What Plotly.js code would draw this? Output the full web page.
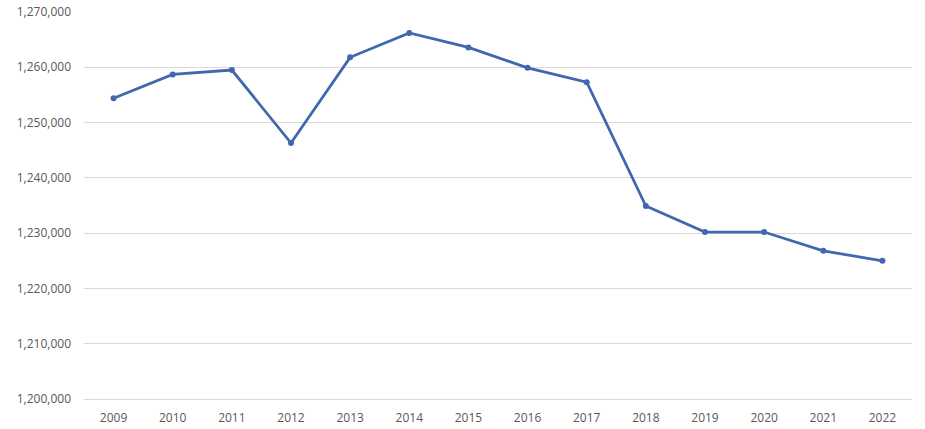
<!DOCTYPE html>
<html>
<head>
<meta charset="utf-8">
<script src="https://cdn.plot.ly/plotly-3.0.1.min.js"></script>
<style>
  html, body { margin: 0; padding: 0; background: #ffffff; }
  #chart { width: 925px; height: 429px; }
</style>
</head>
<body>
<div id="chart"></div>
<script>
const years = ["2009","2010","2011","2012","2013","2014","2015","2016","2017","2018","2019","2020","2021","2022"];
const values = [1254400, 1258700, 1259500, 1246300, 1261800, 1266200, 1263600, 1259900, 1257300, 1234900, 1230200, 1230200, 1226800, 1225000];
const yTicks = [1200000, 1210000, 1220000, 1230000, 1240000, 1250000, 1260000, 1270000];
const yTickLabels = ["1,200,000","1,210,000","1,220,000","1,230,000","1,240,000","1,250,000","1,260,000","1,270,000"];

const trace = {
  x: years,
  y: values,
  type: "scatter",
  mode: "lines+markers",
  line: { color: "#4068ae", width: 2.8 },
  marker: { color: "#4068ae", size: 6 },
  hoverinfo: "x+y"
};

const layout = {
  width: 925,
  height: 429,
  margin: { l: 84, r: 13, t: 12, b: 30, pad: 0 },
  paper_bgcolor: "#ffffff",
  plot_bgcolor: "#ffffff",
  showlegend: false,
  font: { family: "Open Sans, Liberation Sans, sans-serif", size: 12, color: "#595959" },
  xaxis: {
    type: "category",
    range: [-0.5, years.length - 0.5],
    autorange: false,
    automargin: false,
    showgrid: false,
    zeroline: false,
    showline: true,
    linecolor: "#d9d9d9",
    linewidth: 1,
    ticks: "",
    tickfont: { size: 12, color: "#595959" },
    ticklabelstandoff: 8
  },
  yaxis: {
    range: [1200000, 1270000],
    autorange: false,
    automargin: false,
    tickvals: yTicks,
    ticktext: yTickLabels,
    showgrid: true,
    gridcolor: "#d9d9d9",
    gridwidth: 1,
    zeroline: false,
    showline: false,
    ticks: "",
    tickfont: { size: 12, color: "#595959" },
    ticklabelstandoff: 12
  }
};

Plotly.newPlot("chart", [trace], layout, { displayModeBar: false, staticPlot: true });
</script>
</body>
</html>
